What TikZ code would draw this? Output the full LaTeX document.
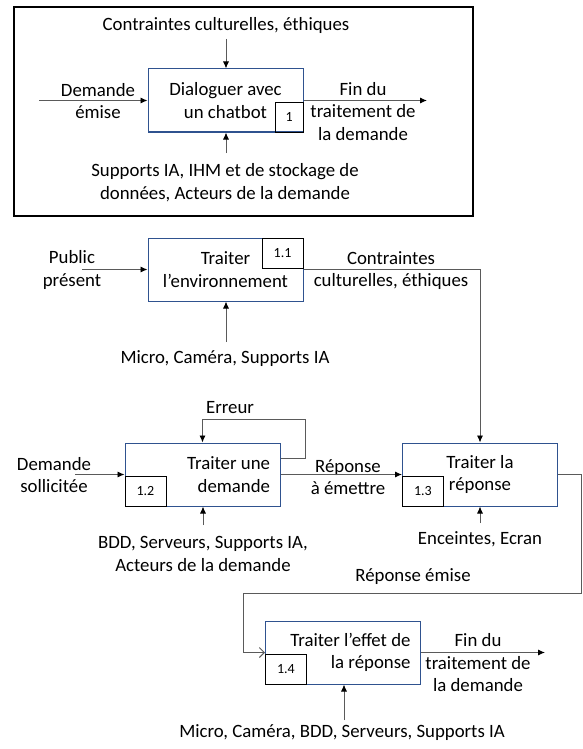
\documentclass[tikz,border=0pt]{standalone}
\usepackage{fontspec}
\setmainfont{Carlito}
\usetikzlibrary{arrows.meta, positioning, calc}
\definecolor{boxblue}{RGB}{47,82,143}
\definecolor{flowgray}{RGB}{90,90,90}

\begin{document}
\begin{tikzpicture}[
    x=1pt, y=-1pt,
    every node/.style={font=\fontsize{18.8}{22.5}\selectfont},
    frame/.style={draw=black, line width=1.4pt},
    act/.style={draw=boxblue, line width=1pt, minimum width=155pt, minimum height=63pt, inner sep=0pt, align=center},
    actright/.style={act, text width=135pt, align=flush right},
    numbox/.style={draw=black, line width=0.8pt, minimum width=41pt, minimum height=30pt, inner sep=0pt, font=\fontsize{14}{16}\selectfont},
    lbl/.style={align=center, inner sep=0pt},
    flow/.style={draw=flowgray, line width=0.9pt, -{Latex[length=7pt,width=6pt,color=black]}},
    openflow/.style={draw=flowgray, line width=0.9pt, -{Straight Barb[length=5pt,width=10pt]}}
]
    \useasboundingbox (0,0) rectangle (582,749);

    % Context: Dialoguer avec un chatbot
    \draw[frame] (14,7) rectangle (473,216);
    \node[act] (a0) at (225.5,100.5) {Dialoguer avec\\un chatbot};
    \node[numbox, minimum width=28pt, anchor=south east] (n0) at (a0.south east) {1};
    \coordinate (a0ctl) at (226,39);
    \coordinate (a0in) at (39,100.5);
    \coordinate (a0out) at (427,100.5);
    \coordinate (a0mec) at (226,153);
    \node[lbl] (a0ctltxt) at (226,25) {Contraintes culturelles, éthiques};
    \node[lbl] (a0intxt) at (98,101) {Demande\\émise};
    \node[lbl] (a0outtxt) at (363,111.5) {Fin du\\traitement de\\la demande};
    \node[lbl] (a0mectxt) at (225,182.5) {Supports IA, IHM et de stockage de\\données, Acteurs de la demande};
    \draw[flow] (a0ctl) -- (a0ctl |- a0.north);
    \draw[flow] (a0in) -- (a0.west);
    \draw[flow] (a0.east) -- (a0out);
    \draw[flow] (a0mec) -- (a0mec |- a0.south);

    % 1.1 Traiter l'environnement
    \node[act] (a1) at (225.5,269.5) {Traiter\\l’environnement};
    \node[numbox, anchor=north east] (n1) at (a1.north east) {1.1};
    \coordinate (a1in) at (82,269.5);
    \coordinate (a1mec) at (226,342);
    \node[lbl] (a1intxt) at (72,270) {Public\\présent};
    \node[lbl] (a1outtxt) at (391,270.5) {Contraintes\\culturelles, éthiques};
    \node[lbl] (a1mectxt) at (225,359) {Micro, Caméra, Supports IA};

    % 1.2 Traiter une demande
    \node[actright] (a2) at (202.5,474.5) {Traiter une\\demande};
    \node[numbox, anchor=south west] (n2) at (a2.south west) {1.2};
    \coordinate (a2in) at (75,474.5);
    \coordinate (a2loop) at (305,419);
    \coordinate (a2mec) at (203,525);
    \node[lbl] (a2intxt) at (54,475) {Demande\\sollicitée};
    \node[lbl] (a2looptxt) at (230,408) {Erreur};
    \node[lbl] (a2outtxt) at (348,477) {Réponse\\à émettre};
    \node[lbl] (a2mectxt) at (203,554) {BDD, Serveurs, Supports IA,\\Acteurs de la demande};

    % 1.3 Traiter la reponse
    \node[act] (a3) at (480,474.5) {Traiter la\\réponse};
    \node[numbox, anchor=south west] (n3) at (a3.south west) {1.3};
    \coordinate (a3mec) at (480,523);
    \coordinate (a3turn) at (581,593);
    \coordinate (a4turn) at (243,593);
    \node[lbl] (a3mectxt) at (480,539) {Enceintes, Ecran};
    \node[lbl] (a3outtxt) at (413,577) {Réponse émise};

    % 1.4 Traiter l'effet de la reponse
    \node[actright] (a4) at (343,652.5) {Traiter l’effet de\\la réponse};
    \node[numbox, anchor=south west] (n4) at (a4.south west) {1.4};
    \coordinate (a4out) at (545,652.5);
    \coordinate (a4mec) at (344,720);
    \node[lbl] (a4outtxt) at (478,663) {Fin du\\traitement de\\la demande};
    \node[lbl] (a4mectxt) at (342,733) {Micro, Caméra, BDD, Serveurs, Supports IA};

    % Flows
    \draw[flow] (a1in) -- (a1.west);
    \draw[flow] (a1mec) -- (a1mec |- a1.south);
    \draw[flow] (a1.east) -| (a3.north);
    \draw[flow] (a2in) -- (a2.west);
    \draw[flow] ($(a2.north east)!0.25!(a2.south east)$) -| (a2loop) -| (a2.north);
    \draw[flow] (a2.east) -- (a3.west);
    \draw[flow] (a2mec) -- (a2mec |- a2.south);
    \draw[flow] (a3mec) -- (a3mec |- a3.south);
    \draw[openflow] (a3.east) -| (a3turn) -- (a4turn) |- (a4.west);
    \draw[flow] (a4.east) -- (a4out);
    \draw[flow] (a4mec) -- (a4mec |- a4.south);
\end{tikzpicture}
\end{document}
